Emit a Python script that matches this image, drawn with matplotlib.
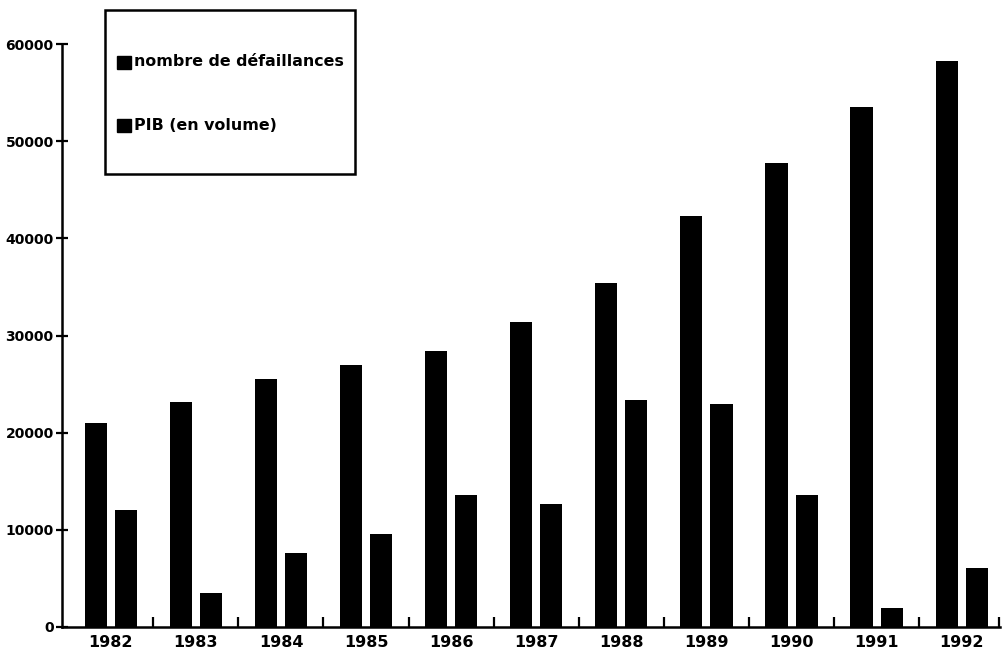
import matplotlib
matplotlib.use('Agg')
import matplotlib.pyplot as plt
from matplotlib.patches import Rectangle
import numpy as np

# data
years = ['1982', '1983', '1984', '1985', '1986', '1987', '1988', '1989', '1990', '1991', '1992']
defaillances = [21000, 23200, 25500, 27000, 28400, 31400, 35400, 42300, 47800, 53500, 58300]
pib_volume = [12000, 3500, 7600, 9600, 13600, 12700, 23400, 23000, 13600, 2000, 6100]
yticks = [0, 10000, 20000, 30000, 40000, 50000, 60000]
legend_labels = ['nombre de défaillances', 'PIB (en volume)']

plt.rcParams['font.family'] = ['DejaVu Sans']
plt.rcParams['font.weight'] = 'bold'

fig = plt.figure(figsize=(10.03, 6.53), dpi=100)
ax = fig.add_axes([62 / 1003, 1 - 627 / 653, (1000 - 62) / 1003, (627 - 44) / 653])

x = np.arange(len(years))
w = 0.26
off = 0.177
ax.bar(x - off, defaillances, w, color='black')
ax.bar(x + off, pib_volume, w, color='black')

x_right = 10.45
ax.set_xlim(-0.573, x_right)
ax.set_ylim(0, 60000)

for s in ['top', 'right']:
    ax.spines[s].set_visible(False)
for s in ['left', 'bottom']:
    ax.spines[s].set_linewidth(1.8)

ax.set_yticks(yticks)
ax.set_yticklabels([str(v) for v in yticks], fontsize=10, fontweight='bold')
ax.tick_params(axis='y', direction='inout', length=9, width=1.6, pad=1.5)

ax.set_xticks(x)
ax.set_xticklabels(years, fontsize=11.5, fontweight='bold')
ax.tick_params(axis='x', which='major', length=0, pad=6)
minor = list(x[:-1] + 0.5) + [x_right - 0.01]
ax.set_xticks(minor, minor=True)
ax.tick_params(axis='x', which='minor', direction='in', length=7, width=1.6)

# legend box drawn by hand, it sits above the plotting area
fig.add_artist(Rectangle((105 / 1003, 1 - 174 / 653), 250 / 1003, 164 / 653,
                         transform=fig.transFigure, fill=False, lw=1.8, ec='black'))
for k, (lab, ypx) in enumerate(zip(legend_labels, [62, 125])):
    fig.add_artist(Rectangle((117 / 1003, 1 - (ypx + 7) / 653), 14 / 1003, 13 / 653,
                             transform=fig.transFigure, color='black'))
    fig.text(134 / 1003, 1 - ypx / 653, lab, fontsize=11.4, fontweight='bold',
             va='center', ha='left')

fig.savefig('out.png', dpi=100)
